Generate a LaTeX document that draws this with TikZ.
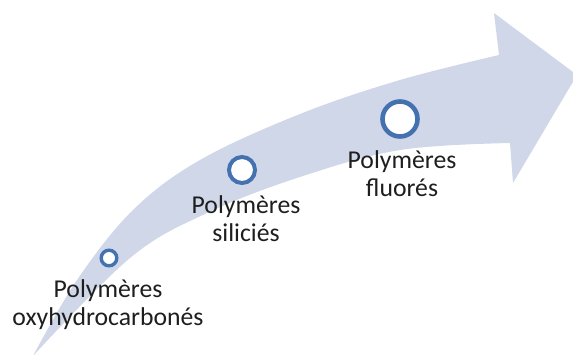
\documentclass[tikz,border=0pt]{standalone}
\usepackage{fontspec}
\setmainfont{Carlito}
\definecolor{arrowfill}{RGB}{208,215,232}
\definecolor{ringblue}{RGB}{68,114,176}
\definecolor{txt}{RGB}{30,30,30}
\begin{document}
\begin{tikzpicture}[x=1pt,y=-1pt,
  ring/.style={circle,draw=ringblue,fill=white,inner sep=0pt},
  lbl/.style={align=center,inner sep=0pt,text=txt,font=\fontsize{25.7}{28}\selectfont,anchor=base}]
\useasboundingbox (0,0) rectangle (573,354);
\fill[arrowfill] plot[smooth,tension=0.6] coordinates {(33,356) (77,280) (133,210) (200,160) (300,114) (400,80) (499,55)}
  -- (494,13) -- (577,75) -- (513,183) -- (510,143)
  -- plot[smooth,tension=0.6] coordinates {(510,143) (400,150) (300,177) (207,213) (130,258) (33,356)} -- cycle;
\node[ring,line width=3.4pt,minimum size=15.6pt] (c1) at (109,258) {};
\node[ring,line width=4pt,minimum size=26pt] (c2) at (242,170) {};
\node[ring,line width=4.6pt,minimum size=35pt] (c3) at (400,119) {};
\node[lbl] (t1) at (108,325) {Polymères\\oxyhydrocarbonés};
\node[lbl] (t2) at (246,241) {Polymères\\siliciés};
\node[lbl] (t3) at (402,196) {Polymères\\fluorés};
\end{tikzpicture}
\end{document}
